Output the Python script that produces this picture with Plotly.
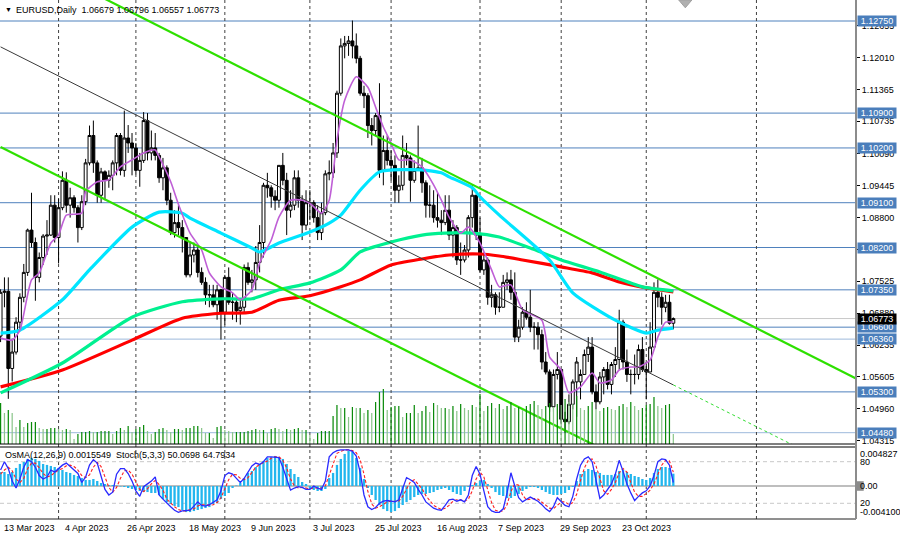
import plotly.graph_objects as go
import pandas as pd

# ---------------- data ----------------
DATES = pd.bdate_range("2023-03-13", "2023-11-10")   # daily bars, weekdays

OPEN = [1.0642,1.0730,1.0732,1.0577,1.0610,1.0670,1.0720,1.0770,1.0855,1.0830,
        1.0760,1.0800,1.0843,1.0845,1.0905,1.0840,1.0900,1.0955,1.0905,1.0920,
        1.0900,1.0860,1.0912,1.0990,1.1045,1.0990,1.0925,1.0972,1.0955,1.0965,
        1.0990,1.1045,1.0975,1.1040,1.1030,1.1020,1.0975,1.0995,1.1075,1.1010,
        1.1020,1.1005,1.0960,1.0980,1.0915,1.0850,1.0870,1.0860,1.0840,1.0765,
        1.0805,1.0815,1.0770,1.0750,1.0725,1.0725,1.0705,1.0735,1.0690,1.0760,
        1.0710,1.0710,1.0693,1.0700,1.0780,1.0750,1.0755,1.0790,1.0830,1.0945,
        1.0940,1.0923,1.0915,1.0985,1.0955,1.0895,1.0905,1.0960,1.0915,1.0865,
        1.0910,1.0910,1.0880,1.0850,1.0890,1.0968,1.0970,1.1010,1.1130,1.1225,
        1.1230,1.1235,1.1225,1.1200,1.1130,1.1125,1.1065,1.1055,1.1085,1.0975,
        1.1015,1.0995,1.0985,1.0935,1.0945,1.1005,1.1000,1.0955,1.0975,1.0980,
        1.0950,1.0905,1.0905,1.0880,1.0875,1.0870,1.0895,1.0845,1.0860,1.0795,
        1.0795,1.0815,1.0880,1.0925,1.0845,1.0775,1.0795,1.0720,1.0725,1.0700,
        1.0700,1.0750,1.0755,1.0730,1.0640,1.0660,1.0690,1.0680,1.0660,1.0660,
        1.0645,1.0590,1.0570,1.0500,1.0565,1.0575,1.0475,1.0470,1.0505,1.0550,
        1.0550,1.0565,1.0605,1.0620,1.0530,1.0510,1.0560,1.0575,1.0545,1.0585,
        1.0595,1.0670,1.0590,1.0565,1.0565,1.0565,1.0615,1.0575,1.0570,1.0620,
        1.0730,1.0720,1.0700,1.0710,1.06679]
HIGH = [1.0736,1.0760,1.0760,1.0637,1.0680,1.0728,1.0787,1.0858,1.0930,1.0840,
        1.0810,1.0847,1.0875,1.0925,1.0925,1.0918,1.0973,1.0971,1.0940,1.0925,
        1.0905,1.0925,1.0998,1.1065,1.1075,1.0995,1.0980,1.0975,1.0975,1.0995,
        1.1050,1.1050,1.1095,1.1066,1.1050,1.1030,1.1010,1.1092,1.1090,1.1055,
        1.1050,1.1010,1.1000,1.0985,1.0930,1.0895,1.0905,1.0875,1.0840,1.0830,
        1.0830,1.0820,1.0780,1.0760,1.0745,1.0745,1.0745,1.0737,1.0765,1.0780,
        1.0730,1.0720,1.0715,1.0786,1.0790,1.0775,1.0823,1.0865,1.0950,1.0970,
        1.0945,1.0935,1.0985,1.1010,1.0970,1.0935,1.0975,1.0975,1.0925,1.0935,
        1.0935,1.0915,1.0905,1.0910,1.0975,1.0995,1.1030,1.1135,1.1240,1.1245,
        1.1245,1.1276,1.1250,1.1205,1.1145,1.1130,1.1080,1.1090,1.1150,1.1045,
        1.1045,1.1015,1.1005,1.0965,1.1045,1.1030,1.1005,1.0995,1.1065,1.1000,
        1.0955,1.0945,1.0935,1.0930,1.0895,1.0925,1.0925,1.0875,1.0865,1.0830,
        1.0825,1.0885,1.0945,1.0925,1.0880,1.0810,1.0800,1.0745,1.0730,1.0730,
        1.0765,1.0770,1.0775,1.0770,1.0675,1.0700,1.0710,1.0735,1.0670,1.0670,
        1.0655,1.0610,1.0575,1.0575,1.0610,1.0575,1.0490,1.0525,1.0555,1.0600,
        1.0575,1.0615,1.0640,1.0640,1.0545,1.0570,1.0580,1.0590,1.0590,1.0620,
        1.0695,1.0675,1.0615,1.0575,1.0605,1.0625,1.0640,1.0590,1.0670,1.0750,
        1.0756,1.0730,1.0725,1.0725,1.06796]
LOW = [1.0630,1.0700,1.0516,1.0551,1.0605,1.0655,1.0710,1.0763,1.0820,1.0713,
       1.0750,1.0785,1.0805,1.0843,1.0830,1.0788,1.0895,1.0890,1.0880,1.0890,
       1.0830,1.0855,1.0905,1.0985,1.0970,1.0910,1.0910,1.0915,1.0940,1.0935,
       1.0965,1.0965,1.0962,1.1010,1.0965,1.0967,1.0942,1.0990,1.0995,1.0995,
       1.0995,1.0950,1.0935,1.0905,1.0845,1.0840,1.0845,1.0810,1.0760,1.0760,
       1.0790,1.0760,1.0745,1.0705,1.0700,1.0700,1.0675,1.0635,1.0665,1.0705,
       1.0675,1.0670,1.0665,1.0690,1.0745,1.0730,1.0735,1.0770,1.0800,1.0920,
       1.0900,1.0895,1.0900,1.0945,1.0845,1.0880,1.0895,1.0900,1.0835,1.0855,
       1.0875,1.0870,1.0835,1.0835,1.0885,1.0955,1.0960,1.1000,1.1125,1.1200,
       1.1205,1.1200,1.1190,1.1125,1.1100,1.1040,1.1025,1.1045,1.0960,1.0945,
       1.0985,1.0955,1.0910,1.0910,1.0935,1.0985,1.0912,1.0950,1.0975,1.0930,
       1.0880,1.0880,1.0870,1.0860,1.0845,1.0865,1.0835,1.0800,1.0785,1.0765,
       1.0790,1.0800,1.0860,1.0835,1.0770,1.0765,1.0705,1.0700,1.0685,1.0690,
       1.0700,1.0735,1.0715,1.0630,1.0630,1.0655,1.0675,1.0650,1.0615,1.0615,
       1.0575,1.0565,1.0490,1.0490,1.0555,1.0465,1.0448,1.0465,1.0495,1.0480,
       1.0515,1.0565,1.0590,1.0525,1.0495,1.0505,1.0525,1.0535,1.0525,1.0560,
       1.0575,1.0575,1.0550,1.0525,1.0545,1.0555,1.0570,1.0515,1.0570,1.0620,
       1.0700,1.0665,1.0690,1.0665,1.06557]
CLOSE = [1.0730,1.0732,1.0577,1.0610,1.0670,1.0720,1.0770,1.0855,1.0830,1.0760,
         1.0800,1.0843,1.0845,1.0905,1.0840,1.0900,1.0955,1.0905,1.0920,1.0900,
         1.0860,1.0912,1.0990,1.1045,1.0990,1.0925,1.0972,1.0955,1.0965,1.0990,
         1.1045,1.0975,1.1040,1.1030,1.1020,1.0975,1.0995,1.1075,1.1010,1.1020,
         1.1005,1.0960,1.0980,1.0915,1.0850,1.0870,1.0860,1.0840,1.0765,1.0805,
         1.0815,1.0770,1.0750,1.0725,1.0725,1.0705,1.0735,1.0690,1.0760,1.0710,
         1.0710,1.0693,1.0700,1.0780,1.0750,1.0755,1.0790,1.0830,1.0945,1.0940,
         1.0923,1.0915,1.0985,1.0955,1.0895,1.0905,1.0960,1.0915,1.0865,1.0910,
         1.0910,1.0880,1.0850,1.0890,1.0968,1.0970,1.1010,1.1130,1.1225,1.1230,
         1.1235,1.1225,1.1200,1.1130,1.1125,1.1065,1.1055,1.1085,1.0975,1.1015,
         1.0995,1.0985,1.0935,1.0945,1.1005,1.1000,1.0955,1.0975,1.0980,1.0950,
         1.0905,1.0905,1.0880,1.0875,1.0870,1.0895,1.0845,1.0860,1.0795,1.0795,
         1.0815,1.0880,1.0925,1.0845,1.0775,1.0795,1.0720,1.0725,1.0700,1.0700,
         1.0750,1.0755,1.0730,1.0640,1.0660,1.0690,1.0680,1.0660,1.0660,1.0645,
         1.0590,1.0570,1.0500,1.0565,1.0575,1.0475,1.0470,1.0505,1.0550,1.0590,
         1.0565,1.0605,1.0620,1.0530,1.0510,1.0560,1.0575,1.0545,1.0585,1.0595,
         1.0670,1.0590,1.0565,1.0565,1.0565,1.0615,1.0575,1.0570,1.0620,1.0730,
         1.0720,1.0700,1.0710,1.0668,1.06773]

# tick volume, thousands
VOLUME_K = [41,31,34,31,17,24,17,21,22,22, 16,15,15,16,16,15,14,15,14,5,
            10,12,12,13,12,12,13,13,13,10, 13,16,14,18,12,15,17,19,13,10,
            12,15,16,14,12,15,15,14,16,16, 18,18,16,11,11,6,17,18,14,13,
            12,12,12,12,13,14,15,14,14,11, 15,16,15,13,15,14,15,16,14,14,
            9,5,11,13,13,13,28,39,36,36, 27,37,36,36,31,34,31,42,52,55,
            34,37,38,38,27,31,31,39,31,33, 38,32,41,39,36,36,
            35,38,33,40,36,34,39,37,50,33, 38,41,36,40,35,38,42,36,37,34,
            38,40,43,39,35,38,41,37,40,39, 45,42,40,48,36,34,38,42,35,33,
            36,37,35,34,38,40,37,42,38,34, 36,39,40,47,38,36,39,40,10]

OSMA = [0.00176,0.00176,0.00151,0.00176,0.00227,0.00277,0.00302,0.0034,0.00353,0.0034,
        0.00315,0.00277,0.00265,0.00252,0.00239,0.00227,0.00202,0.00176,0.00164,0.00139,
        0.00126,0.001,0.00076,0.00076,0.00088,0.00063,0.00038,0.00025,0.00013,0.00013,
        0.00006,-0.00006,-0.00013,-0.00025,-0.00038,-0.0005,-0.00063,-0.00076,-0.00076,-0.00088,
        -0.00088,-0.00113,-0.00164,-0.00202,-0.00227,-0.00252,-0.00265,-0.00302,-0.00328,-0.00328,
        -0.00315,-0.00302,-0.0029,-0.00277,-0.00265,-0.00227,-0.00214,-0.00164,-0.00126,-0.00088,
        -0.00025,0.00006,0.00038,0.001,0.00164,0.00189,0.00239,0.00277,0.00315,0.00353,
        0.00365,0.00378,0.00365,0.0034,0.00277,0.00214,0.00151,0.00113,0.0005,0.00025,
        -0.00025,-0.0005,-0.00063,-0.00063,-0.00038,0.001,0.00164,0.00265,0.0034,0.00403,
        0.00441,0.00428,0.00353,0.00227,0.00088,-0.00025,-0.00113,-0.00176,-0.00239,-0.0029,
        -0.00315,-0.00328,-0.00315,-0.00277,-0.00239,-0.00202,-0.00176,-0.00139,-0.00113,-0.001,
        -0.001,-0.00088,-0.00076,-0.0005,-0.00038,-0.00025,-0.0005,-0.00076,-0.001,-0.00113,
        -0.00063,-0.00013,0.00013,0.00038,0.00063,0.00076,0.00025,-0.00025,-0.00076,-0.00113,
        -0.00126,-0.00151,-0.00151,-0.00126,-0.001,-0.00063,-0.00038,-0.00013,-0.00013,-0.00025,
        -0.0005,-0.00076,-0.001,-0.00113,-0.00113,-0.001,-0.00088,-0.0005,-0.00013,0.00063,
        0.00151,0.00189,0.00214,0.00202,0.00176,0.00164,0.00139,0.00139,0.00139,0.00151,
        0.00189,0.00202,0.00176,0.00151,0.00126,0.00113,0.00088,0.00076,0.001,0.00164,
        0.00214,0.00239,0.00239,0.00227,0.00155]

STOCH_MAIN = [68,80,70,52,42,55,72,83,80,72, 60,55,58,68,65,70,75,78,73,68,
              63,50,58,75,83,78,58,40,32,36, 62,70,70,63,52,38,30,44,48,52,
              58,32,26,20,15,10,7,9,10,10, 16,22,17,16,18,21,25,38,60,64,
              62,56,50,56,65,74,78,76,80,87, 87,87,86,72,55,39,42,44,43,40,
              40,45,42,40,52,87,93,96,97,97, 97,95,88,65,32,15,11,14,20,23,
              24,23,22,25,42,57,54,50,40,32, 22,17,13,11,10,17,25,26,23,25,
              22,32,60,73,62,38,15,9,7,7, 12,35,64,45,28,22,26,29,26,23,
              18,12,8,15,28,22,17,15,30,55, 75,84,87,80,55,27,32,40,48,62,
              82,66,48,35,24,30,35,38,45,60, 80,84,83,75,50]
STOCH_SIGNAL = [62,68,72,67,55,50,56,70,78,78, 71,63,58,60,64,68,70,74,75,73,
                68,60,57,61,72,79,73,59,43,36, 43,56,67,68,62,51,40,37,41,48,
                53,47,39,26,20,15,11,9,9,10, 12,16,18,18,17,18,21,28,41,54,
                62,61,56,54,57,65,72,76,78,81, 85,87,87,82,71,55,45,42,43,42,
                41,42,42,42,45,60,77,92,95,97, 97,96,93,83,62,37,19,13,15,19,
                22,23,23,23,30,41,51,54,48,41, 31,24,17,14,11,13,17,23,25,25,
                23,26,38,55,65,58,38,21,10,8, 9,18,37,48,46,32,25,26,27,26,
                22,18,13,12,17,22,22,18,21,33, 53,71,82,84,74,54,38,33,40,50,
                64,70,65,50,36,30,30,34,39,48, 62,75,82,81,65]

# moving averages read at bar positions
MA200_AT = [0,16,34,47,57,65,72,80,88,93,101,109,116,124,129,135,145,153,160,167,174]
MA200 = [1.0540,1.0574,1.0634,1.0678,1.0688,1.0690,1.0714,1.0723,1.0741,1.0755,1.0785,
         1.0797,1.0805,1.0807,1.0803,1.0795,1.0781,1.0769,1.0751,1.0739,1.0731]
MA144_AT = [0,16,34,47,57,65,72,80,88,93,101,109,115,122,129,137,145,155,166,174]
MA144 = [1.0528,1.0588,1.0680,1.0711,1.0717,1.0717,1.0735,1.0749,1.0775,1.0811,1.0831,
         1.0845,1.0849,1.0849,1.0841,1.0819,1.0795,1.0771,1.0741,1.0733]
MA50_AT = [0,5,16,23,34,41,47,49,57,65,67,72,80,85,88,93,98,109,114,116,122,124,129,142,148,159,167,170,174]
MA50 = [1.0648,1.0654,1.0715,1.0775,1.0861,1.0891,1.0889,1.0879,1.0849,1.0819,1.0811,1.0829,
        1.0851,1.0869,1.0885,1.0935,1.0972,1.0976,1.0970,1.0962,1.0940,1.0922,1.0885,1.0795,
        1.0729,1.0674,1.0648,1.0654,1.0658]
MAFAST_AT = [0,3,5,8,10,13,15,17,21,22,25,28,31,34,37,40,41,44,46,49,52,54,57,60,62,65,67,70,72,
             75,78,80,83,85,87,89,92,95,97,99,101,103,106,109,112,114,116,119,121,124,127,129,
             132,135,140,142,145,147,150,153,155,158,160,163,165,168,170,172,174]
MAFAST = [1.0638,1.0634,1.0654,1.0755,1.0769,1.0829,1.0845,1.0885,1.0889,1.0932,1.0952,1.0956,
          1.0982,1.0996,1.1010,1.1016,1.1002,1.0952,1.0907,1.0849,1.0815,1.0769,1.0741,1.0729,
          1.0715,1.0735,1.0789,1.0835,1.0881,1.0915,1.0915,1.0909,1.0889,1.0915,1.1036,1.1116,
          1.1163,1.1142,1.1102,1.1062,1.1030,1.0996,1.0996,1.0982,1.0946,1.0915,1.0881,1.0849,
          1.0861,1.0829,1.0775,1.0741,1.0745,1.0695,1.0674,1.0600,1.0574,1.0528,1.0540,1.0568,
          1.0548,1.0554,1.0574,1.0580,1.0580,1.0594,1.0640,1.0670,1.0670]

# drawn channel lines (bar position, price)
TREND_UPPER = ([20, 225], [1.1347, 1.0542])
TREND_LOWER = ([0, 160], [1.1022, 1.0398])
TREND_MID = ([0, 174], [1.1223, 1.0544])
TREND_MID_EXT = ([174, 215], [1.0544, 1.0384])

LEVELS = [1.1275, 1.1090, 1.1020, 1.0910, 1.0820, 1.0735, 1.0660, 1.0636, 1.0530, 1.0448]
LEVEL_LABELS = ["1.12750", "1.10900", "1.10200", "1.09100", "1.08200", "1.07350",
                "1.06600", "1.06360", "1.05300", "1.04480"]
SOFT_LEVELS = [1.0636, 1.0448]
LAST_PRICE = 1.06773
LAST_LABEL = "1.06773"

PRICE_TICKS = [1.12655, 1.12010, 1.11365, 1.10735, 1.10090, 1.09445, 1.08800, 1.08155,
               1.07525, 1.06880, 1.06235, 1.05605, 1.04960, 1.04315]
PRICE_TICK_TEXT = ["1.12655", "1.12010", "1.11365", "1.10735", "1.10090", "1.09445", "1.08800",
                   "1.08155", "1.07525", "1.06880", "1.06235", "1.05605", "1.04960", "1.04315"]

DATE_TICK_AT = [0, 16, 32, 48, 64, 80, 96, 112, 128, 144, 160]
DATE_TICK_TEXT = ["13 Mar 2023", "4 Apr 2023", "26 Apr 2023", "18 May 2023", "9 Jun 2023",
                  "3 Jul 2023", "25 Jul 2023", "16 Aug 2023", "7 Sep 2023", "29 Sep 2023",
                  "23 Oct 2023"]
SEPARATORS_AT = [15, 35, 58, 80, 101, 124, 145, 167, 195.5]

TITLE = "EURUSD,Daily  1.06679 1.06796 1.06557 1.06773"
SUB_TITLE = "OsMA(12,26,9) 0.0015549  Stoch(5,3,3) 50.0698 64.7934"

# ---------------- figure ----------------
BAR = list(range(len(DATES)))
FONT = "Liberation Sans, Arial, sans-serif"
PLOT_H = 519
MAIN_LO = 1 - 444 / PLOT_H
SUB_HI = 1 - 447 / PLOT_H

fig = go.Figure()

vol_colors = ["#0A8A0A" if i == 0 or VOLUME_K[i] >= VOLUME_K[i - 1] else "#8CC68C"
              for i in range(len(VOLUME_K))]
fig.add_trace(go.Bar(x=BAR, y=VOLUME_K, yaxis="y3", width=0.32,
                     marker=dict(color=vol_colors, line=dict(width=0)), hoverinfo="skip"))

fig.add_trace(go.Candlestick(
    x=BAR, open=OPEN, high=HIGH, low=LOW, close=CLOSE,
    increasing=dict(line=dict(color="#000000", width=1), fillcolor="#FFFFFF"),
    decreasing=dict(line=dict(color="#000000", width=1), fillcolor="#000000"),
    whiskerwidth=0, hoverinfo="skip"))

for at, vals, col, w in [(MA200_AT, MA200, "#FF0000", 3.2),
                         (MA144_AT, MA144, "#00F090", 3.2),
                         (MA50_AT, MA50, "#00E5FF", 3.2),
                         (MAFAST_AT, MAFAST, "#BF5FD6", 1.6)]:
    fig.add_trace(go.Scatter(x=at, y=vals, mode="lines",
                             line=dict(color=col, width=w, shape="spline", smoothing=0.6),
                             hoverinfo="skip"))

for (xs, ys) in [TREND_UPPER, TREND_LOWER]:
    fig.add_trace(go.Scatter(x=xs, y=ys, mode="lines",
                             line=dict(color="#2EE000", width=2.2), hoverinfo="skip"))
fig.add_trace(go.Scatter(x=TREND_MID[0], y=TREND_MID[1], mode="lines",
                         line=dict(color="#3A3A3A", width=1), hoverinfo="skip"))
fig.add_trace(go.Scatter(x=TREND_MID_EXT[0], y=TREND_MID_EXT[1], mode="lines",
                         line=dict(color="#33DD33", width=1, dash="3px,3px"), hoverinfo="skip"))

# sub window
fig.add_trace(go.Bar(x=BAR, y=OSMA, yaxis="y2", width=0.6,
                     marker=dict(color="#22B6EE", line=dict(width=0)), hoverinfo="skip"))
fig.add_trace(go.Scatter(x=BAR, y=STOCH_SIGNAL, yaxis="y4", mode="lines",
                         line=dict(color="#FF2020", width=1.1, dash="3px,2px"), hoverinfo="skip"))
fig.add_trace(go.Scatter(x=BAR, y=STOCH_MAIN, yaxis="y4", mode="lines",
                         line=dict(color="#2A2AFF", width=1.3), hoverinfo="skip"))

shapes = []
for lv in LEVELS:
    col = "#9DB9DC" if lv in SOFT_LEVELS else "#4F81BD"
    shapes.append(dict(type="line", xref="paper", yref="y", x0=0, x1=1, y0=lv, y1=lv,
                       line=dict(color=col, width=1), layer="below"))
shapes.append(dict(type="line", xref="paper", yref="y", x0=0, x1=1, y0=LAST_PRICE, y1=LAST_PRICE,
                   line=dict(color="#C8C8C8", width=1), layer="below"))
for s in SEPARATORS_AT:
    shapes.append(dict(type="line", xref="x", yref="paper", x0=s, x1=s, y0=0, y1=1,
                       line=dict(color="#404040", width=1, dash="3px,3px"), layer="below"))
# sub-window guide lines
shapes.append(dict(type="line", xref="paper", yref="y2", x0=0, x1=1, y0=0, y1=0,
                   line=dict(color="#A8A8A8", width=1.5), layer="below"))
for lv in (80, 20):
    shapes.append(dict(type="line", xref="paper", yref="y4", x0=0, x1=1, y0=lv, y1=lv,
                       line=dict(color="#C8C8C8", width=1, dash="4px,3px"), layer="below"))
# window borders and price scale line
for yp, col in [(MAIN_LO, "#000000"), (SUB_HI, "#000000"), (0, "#202020")]:
    shapes.append(dict(type="line", xref="paper", yref="paper", x0=0, x1=1, y0=yp, y1=yp,
                       line=dict(color=col, width=1)))
shapes.append(dict(type="line", xref="paper", yref="paper", x0=1, x1=1, y0=0, y1=1,
                   line=dict(color="#8C8C8C", width=2)))
shapes.append(dict(type="rect", xref="paper", yref="y2", x0=1.001, x1=1.009,
                   y0=-0.0006, y1=0.0006, fillcolor="#8A8A8A", line=dict(width=0)))
# chart shift marker
shapes.append(dict(type="path", xref="x", yref="paper",
                   path="M 175.4 1 L 178.8 1 L 177.1 0.985 Z",
                   fillcolor="#B0B0B0", line=dict(color="#A0A0A0", width=1)))

ann = []
for lv, txt in zip(LEVELS, LEVEL_LABELS):
    ann.append(dict(xref="paper", yref="y", x=1, y=lv, xanchor="left", yanchor="middle",
                    xshift=1, text=txt, showarrow=False, bgcolor="#4A7EBB",
                    font=dict(family=FONT, size=9, color="#FFFFFF"),
                    width=38, height=10, borderpad=0, align="center"))
ann.append(dict(xref="paper", yref="y", x=1, y=LAST_PRICE, xanchor="left", yanchor="middle",
                xshift=1, text=LAST_LABEL, showarrow=False, bgcolor="#000000",
                font=dict(family=FONT, size=9, color="#FFFFFF"),
                width=38, height=10, borderpad=0, align="center"))
sub_labels = [("y2", 0.004902, "0.004827", "top"), ("y4", 80, "80", "middle"),
              ("y2", 0.0, "0.00", "middle"), ("y4", 20, "20", "middle"),
              ("y2", -0.004148, "-0.004100", "bottom")]
for yr, yv, txt, ya in sub_labels:
    ann.append(dict(xref="paper", yref=yr, x=1, y=yv, xanchor="left", yanchor=ya, xshift=2,
                    text=txt, showarrow=False, font=dict(family=FONT, size=9, color="#000000")))
ann.append(dict(xref="paper", yref="paper", x=0, y=1 - 10 / PLOT_H, xanchor="left",
                yanchor="middle", xshift=3, text="▼", showarrow=False,
                font=dict(family=FONT, size=7, color="#000000")))
ann.append(dict(xref="paper", yref="paper", x=0, y=1 - 10 / PLOT_H, xanchor="left",
                yanchor="middle", xshift=14, text=TITLE, showarrow=False,
                font=dict(family=FONT, size=9, color="#000000")))
ann.append(dict(xref="paper", yref="paper", x=0, y=1 - 455 / PLOT_H, xanchor="left",
                yanchor="middle", xshift=3, text=SUB_TITLE, showarrow=False,
                font=dict(family=FONT, size=9, color="#000000")))
for at, txt in zip(DATE_TICK_AT, DATE_TICK_TEXT):
    ann.append(dict(xref="x", yref="paper", x=at, y=-8.7 / PLOT_H, xanchor="left",
                    yanchor="middle", xshift=1, text=txt, showarrow=False,
                    font=dict(family=FONT, size=9, color="#000000")))

fig.update_layout(
    width=900, height=537,
    margin=dict(l=0, r=44, t=0, b=18),
    paper_bgcolor="#FFFFFF", plot_bgcolor="#FFFFFF",
    showlegend=False, hovermode=False,
    barmode="overlay", boxgap=0.25, boxgroupgap=0,
    xaxis=dict(domain=[0, 1], range=[-0.15, 221.25], anchor="y2", showgrid=False,
               zeroline=False, showticklabels=False, showline=False, ticks="",
               rangeslider=dict(visible=False), fixedrange=True),
    yaxis=dict(domain=[MAIN_LO, 1], range=[1.04253, 1.13172], side="right", anchor="x",
               tickmode="array", tickvals=PRICE_TICKS, ticktext=PRICE_TICK_TEXT,
               ticks="outside", ticklen=3, tickwidth=1, tickcolor="#000000",
               tickfont=dict(family=FONT, size=9, color="#000000"),
               showgrid=False, zeroline=False, showline=False, fixedrange=True),
    yaxis3=dict(overlaying="y", range=[0, 444], visible=False, fixedrange=True),
    yaxis2=dict(domain=[0, SUB_HI], range=[-0.004148, 0.004902], anchor="x",
                visible=False, fixedrange=True),
    yaxis4=dict(overlaying="y2", range=[-2.65, 101.2], visible=False, fixedrange=True),
    shapes=shapes, annotations=ann,
    font=dict(family=FONT, size=9, color="#000000"),
)

fig.write_html("out.html", config={"displayModeBar": False, "staticPlot": True},
               post_script="document.body.style.margin='0';document.body.style.overflow='hidden';")
